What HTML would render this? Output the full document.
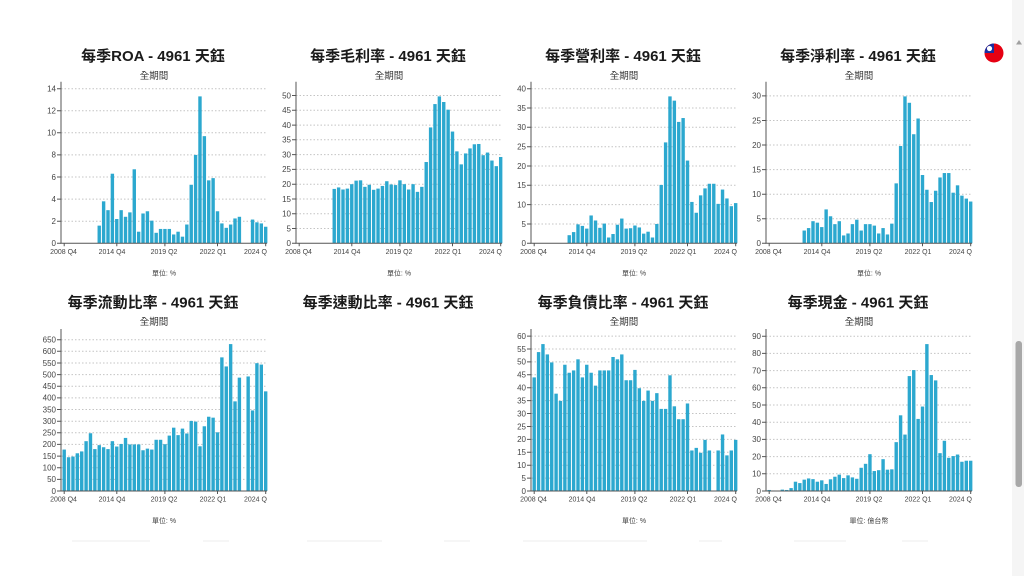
<!DOCTYPE html>
<html><head><meta charset="utf-8">
<style>
html,body{margin:0;padding:0;background:#fff;width:1024px;height:576px;overflow:hidden}
svg{display:block}
text{font-family:"Liberation Sans","Noto Sans CJK TC",sans-serif}
.t{font-size:15px;font-weight:bold;fill:#1a1a1a;text-anchor:middle}
.s{font-size:9.5px;fill:#333;text-anchor:middle}
.u{font-size:7px;fill:#444;text-anchor:middle}
.yl{font-size:8px;fill:#444;text-anchor:end}
.xl{font-size:7px;fill:#444;text-anchor:middle}
.xs{font-size:7px;fill:#444;text-anchor:start}
.g{stroke:#c4c4c4;stroke-width:1;stroke-dasharray:1.5,2;fill:none}
.a{stroke:#555;stroke-width:1;fill:none}
.bars{fill:#2ca8cf}
</style></head><body>
<svg width="1024" height="576" viewBox="0 0 1024 576" xmlns="http://www.w3.org/2000/svg">
<rect width="1024" height="576" fill="#fff"/>
<!-- scrollbar -->
<rect x="1012" y="0" width="12" height="576" fill="#f5f5f5"/>
<polygon points="1016,44.5 1022,44.5 1019,40" fill="#a0a0a0"/>
<rect x="1015.5" y="341" width="6.5" height="146" rx="3" fill="#a8a8a8"/>
<!-- flag -->
<defs><clipPath id="fc"><circle cx="994" cy="53" r="9.5"/></clipPath></defs>
<g clip-path="url(#fc)">
<rect x="984" y="43" width="20" height="20" fill="#e60012"/>
<rect x="984" y="43" width="10" height="10" fill="#1a2fa0"/>
<circle cx="989.5" cy="48.5" r="2.6" fill="#fff"/>
</g>

<!-- Titles -->
<text class="t" x="153" y="61">每季ROA - 4961 天鈺</text>
<text class="t" x="388" y="61">每季毛利率 - 4961 天鈺</text>
<text class="t" x="623" y="61">每季營利率 - 4961 天鈺</text>
<text class="t" x="858" y="61">每季淨利率 - 4961 天鈺</text>
<text class="t" x="153" y="307.5">每季流動比率 - 4961 天鈺</text>
<text class="t" x="388" y="307.5">每季速動比率 - 4961 天鈺</text>
<text class="t" x="623" y="307.5">每季負債比率 - 4961 天鈺</text>
<text class="t" x="858" y="307.5">每季現金 - 4961 天鈺</text>

<text class="s" x="154" y="79">全期間</text>
<text class="s" x="389" y="79">全期間</text>
<text class="s" x="624" y="79">全期間</text>
<text class="s" x="859" y="79">全期間</text>
<text class="s" x="154" y="325">全期間</text>
<text class="s" x="624" y="325">全期間</text>
<text class="s" x="859" y="325">全期間</text>

<text class="u" x="164" y="275.5">單位: %</text>
<text class="u" x="399" y="275.5">單位: %</text>
<text class="u" x="634" y="275.5">單位: %</text>
<text class="u" x="869" y="275.5">單位: %</text>
<text class="u" x="164" y="523">單位: %</text>
<text class="u" x="634" y="523">單位: %</text>
<text class="u" x="869" y="523">單位: 億台幣</text>

<!-- faint bottom fragments -->
<g fill="#f6f6f6">
<rect x="72" y="540" width="78" height="2"/>
<rect x="203" y="540" width="26" height="2"/>
<rect x="307" y="540" width="75" height="2"/>
<rect x="444" y="540" width="26" height="2"/>
<rect x="523" y="540" width="124" height="2"/>
<rect x="699" y="540" width="23" height="2"/>
<rect x="794" y="540" width="52" height="2"/>
<rect x="902" y="540" width="26" height="2"/>
</g>

<!-- ================= CHART 1: ROA ================= -->
<g transform="translate(61,0)">
<path class="g" d="M0 221.2H206M0 199.1H206M0 177H206M0 154.9H206M0 132.8H206M0 110.7H206M0 88.7H206"/>
<path class="a" d="M-4 243.3H0M-4 221.2H0M-4 199.1H0M-4 177H0M-4 154.9H0M-4 132.8H0M-4 110.7H0M-4 88.7H0"/>
<text class="yl" x="-5" y="246.1">0</text>
<text class="yl" x="-5" y="224">2</text>
<text class="yl" x="-5" y="201.9">4</text>
<text class="yl" x="-5" y="179.8">6</text>
<text class="yl" x="-5" y="157.7">8</text>
<text class="yl" x="-5" y="135.6">10</text>
<text class="yl" x="-5" y="113.5">12</text>
<text class="yl" x="-5" y="91.5">14</text>
<g class="bars" transform="translate(0,243.3) scale(1,-11.046)">
<rect x="36.54" width="3.4" height="1.6"/>
<rect x="40.92" width="3.4" height="3.8"/>
<rect x="45.30" width="3.4" height="3.0"/>
<rect x="49.68" width="3.4" height="6.3"/>
<rect x="54.06" width="3.4" height="2.2"/>
<rect x="58.44" width="3.4" height="3.0"/>
<rect x="62.82" width="3.4" height="2.4"/>
<rect x="67.20" width="3.4" height="2.8"/>
<rect x="71.58" width="3.4" height="6.7"/>
<rect x="75.96" width="3.4" height="1.05"/>
<rect x="80.34" width="3.4" height="2.7"/>
<rect x="84.72" width="3.4" height="2.9"/>
<rect x="89.10" width="3.4" height="2.05"/>
<rect x="93.48" width="3.4" height="0.95"/>
<rect x="97.86" width="3.4" height="1.3"/>
<rect x="102.24" width="3.4" height="1.3"/>
<rect x="106.62" width="3.4" height="1.3"/>
<rect x="111.00" width="3.4" height="0.8"/>
<rect x="115.38" width="3.4" height="1.05"/>
<rect x="119.76" width="3.4" height="0.6"/>
<rect x="124.14" width="3.4" height="1.7"/>
<rect x="128.52" width="3.4" height="5.3"/>
<rect x="132.90" width="3.4" height="8.0"/>
<rect x="137.28" width="3.4" height="13.3"/>
<rect x="141.66" width="3.4" height="9.7"/>
<rect x="146.04" width="3.4" height="5.7"/>
<rect x="150.42" width="3.4" height="5.9"/>
<rect x="154.80" width="3.4" height="2.9"/>
<rect x="159.18" width="3.4" height="1.8"/>
<rect x="163.56" width="3.4" height="1.4"/>
<rect x="167.94" width="3.4" height="1.7"/>
<rect x="172.32" width="3.4" height="2.25"/>
<rect x="176.70" width="3.4" height="2.4"/>
<rect x="189.84" width="3.4" height="2.15"/>
<rect x="194.22" width="3.4" height="1.9"/>
<rect x="198.60" width="3.4" height="1.8"/>
<rect x="202.98" width="3.4" height="1.5"/>
</g>
<path class="a" d="M0 81.7V243.3H206M3.2 243.3v3M55.8 243.3v3M103.9 243.3v3M156.5 243.3v3M204.7 243.3v3"/>
<text class="xl" x="2.5" y="253.8">2008 Q4</text>
<text class="xl" x="51" y="253.8">2014 Q4</text>
<text class="xl" x="103" y="253.8">2019 Q2</text>
<text class="xl" x="152" y="253.8">2022 Q1</text>
<text class="xs" x="183" y="253.8">2024 Q</text>
</g>

<!-- ================= CHART 2: 毛利率 ================= -->
<g transform="translate(296,0)">
<path class="g" d="M0 228.5H206M0 213.7H206M0 199H206M0 184.2H206M0 169.4H206M0 154.6H206M0 139.8H206M0 125.1H206M0 110.3H206M0 95.5H206"/>
<path class="a" d="M-4 243.3H0M-4 228.5H0M-4 213.7H0M-4 199H0M-4 184.2H0M-4 169.4H0M-4 154.6H0M-4 139.8H0M-4 125.1H0M-4 110.3H0M-4 95.5H0"/>
<text class="yl" x="-5" y="246.1">0</text>
<text class="yl" x="-5" y="231.3">5</text>
<text class="yl" x="-5" y="216.5">10</text>
<text class="yl" x="-5" y="201.8">15</text>
<text class="yl" x="-5" y="187">20</text>
<text class="yl" x="-5" y="172.2">25</text>
<text class="yl" x="-5" y="157.4">30</text>
<text class="yl" x="-5" y="142.6">35</text>
<text class="yl" x="-5" y="127.9">40</text>
<text class="yl" x="-5" y="113.1">45</text>
<text class="yl" x="-5" y="98.3">50</text>
<g class="bars" transform="translate(0,243.3) scale(1,-2.956)">
<rect x="36.54" width="3.4" height="18.4"/>
<rect x="40.92" width="3.4" height="18.9"/>
<rect x="45.30" width="3.4" height="18.2"/>
<rect x="49.68" width="3.4" height="18.5"/>
<rect x="54.06" width="3.4" height="20.0"/>
<rect x="58.44" width="3.4" height="21.2"/>
<rect x="62.82" width="3.4" height="21.3"/>
<rect x="67.20" width="3.4" height="19.1"/>
<rect x="71.58" width="3.4" height="19.8"/>
<rect x="75.96" width="3.4" height="18.1"/>
<rect x="80.34" width="3.4" height="18.5"/>
<rect x="84.72" width="3.4" height="19.4"/>
<rect x="89.10" width="3.4" height="21.0"/>
<rect x="93.48" width="3.4" height="19.9"/>
<rect x="97.86" width="3.4" height="19.7"/>
<rect x="102.24" width="3.4" height="21.3"/>
<rect x="106.62" width="3.4" height="20.0"/>
<rect x="111.00" width="3.4" height="18.2"/>
<rect x="115.38" width="3.4" height="20.0"/>
<rect x="119.76" width="3.4" height="17.4"/>
<rect x="124.14" width="3.4" height="19.1"/>
<rect x="128.52" width="3.4" height="27.5"/>
<rect x="132.90" width="3.4" height="39.2"/>
<rect x="137.28" width="3.4" height="47.1"/>
<rect x="141.66" width="3.4" height="49.7"/>
<rect x="146.04" width="3.4" height="47.8"/>
<rect x="150.42" width="3.4" height="45.2"/>
<rect x="154.80" width="3.4" height="37.8"/>
<rect x="159.18" width="3.4" height="31.1"/>
<rect x="163.56" width="3.4" height="26.7"/>
<rect x="167.94" width="3.4" height="30.4"/>
<rect x="172.32" width="3.4" height="32.1"/>
<rect x="176.70" width="3.4" height="33.5"/>
<rect x="181.08" width="3.4" height="33.6"/>
<rect x="185.46" width="3.4" height="29.8"/>
<rect x="189.84" width="3.4" height="30.7"/>
<rect x="194.22" width="3.4" height="28.0"/>
<rect x="198.60" width="3.4" height="26.1"/>
<rect x="202.98" width="3.4" height="29.2"/>
</g>
<path class="a" d="M0 81.7V243.3H206M3.2 243.3v3M55.8 243.3v3M103.9 243.3v3M156.5 243.3v3M204.7 243.3v3"/>
<text class="xl" x="2.5" y="253.8">2008 Q4</text>
<text class="xl" x="51" y="253.8">2014 Q4</text>
<text class="xl" x="103" y="253.8">2019 Q2</text>
<text class="xl" x="152" y="253.8">2022 Q1</text>
<text class="xs" x="183" y="253.8">2024 Q</text>
</g>

<!-- ================= CHART 3: 營利率 ================= -->
<g transform="translate(531,0)">
<path class="g" d="M0 224H206M0 204.6H206M0 185.3H206M0 166H206M0 146.7H206M0 127.3H206M0 108H206M0 88.7H206"/>
<path class="a" d="M-4 243.3H0M-4 224H0M-4 204.6H0M-4 185.3H0M-4 166H0M-4 146.7H0M-4 127.3H0M-4 108H0M-4 88.7H0"/>
<text class="yl" x="-5" y="246.1">0</text>
<text class="yl" x="-5" y="226.8">5</text>
<text class="yl" x="-5" y="207.4">10</text>
<text class="yl" x="-5" y="188.1">15</text>
<text class="yl" x="-5" y="168.8">20</text>
<text class="yl" x="-5" y="149.5">25</text>
<text class="yl" x="-5" y="130.1">30</text>
<text class="yl" x="-5" y="110.8">35</text>
<text class="yl" x="-5" y="91.5">40</text>
<g class="bars" transform="translate(0,243.3) scale(1,-3.866)">
<rect x="36.54" width="3.4" height="2.1"/>
<rect x="40.92" width="3.4" height="2.9"/>
<rect x="45.30" width="3.4" height="4.9"/>
<rect x="49.68" width="3.4" height="4.5"/>
<rect x="54.06" width="3.4" height="3.8"/>
<rect x="58.44" width="3.4" height="7.2"/>
<rect x="62.82" width="3.4" height="5.9"/>
<rect x="67.20" width="3.4" height="4.0"/>
<rect x="71.58" width="3.4" height="5.1"/>
<rect x="75.96" width="3.4" height="1.5"/>
<rect x="80.34" width="3.4" height="2.4"/>
<rect x="84.72" width="3.4" height="4.8"/>
<rect x="89.10" width="3.4" height="6.4"/>
<rect x="93.48" width="3.4" height="3.8"/>
<rect x="97.86" width="3.4" height="3.9"/>
<rect x="102.24" width="3.4" height="4.6"/>
<rect x="106.62" width="3.4" height="4.1"/>
<rect x="111.00" width="3.4" height="2.5"/>
<rect x="115.38" width="3.4" height="3.0"/>
<rect x="119.76" width="3.4" height="1.5"/>
<rect x="124.14" width="3.4" height="5.0"/>
<rect x="128.52" width="3.4" height="15.1"/>
<rect x="132.90" width="3.4" height="26.1"/>
<rect x="137.28" width="3.4" height="38.0"/>
<rect x="141.66" width="3.4" height="36.9"/>
<rect x="146.04" width="3.4" height="31.4"/>
<rect x="150.42" width="3.4" height="32.4"/>
<rect x="154.80" width="3.4" height="21.4"/>
<rect x="159.18" width="3.4" height="10.7"/>
<rect x="163.56" width="3.4" height="7.9"/>
<rect x="167.94" width="3.4" height="12.4"/>
<rect x="172.32" width="3.4" height="14.2"/>
<rect x="176.70" width="3.4" height="15.4"/>
<rect x="181.08" width="3.4" height="15.4"/>
<rect x="185.46" width="3.4" height="10.2"/>
<rect x="189.84" width="3.4" height="13.9"/>
<rect x="194.22" width="3.4" height="11.6"/>
<rect x="198.60" width="3.4" height="9.6"/>
<rect x="202.98" width="3.4" height="10.4"/>
</g>
<path class="a" d="M0 81.7V243.3H206M3.2 243.3v3M55.8 243.3v3M103.9 243.3v3M156.5 243.3v3M204.7 243.3v3"/>
<text class="xl" x="2.5" y="253.8">2008 Q4</text>
<text class="xl" x="51" y="253.8">2014 Q4</text>
<text class="xl" x="103" y="253.8">2019 Q2</text>
<text class="xl" x="152" y="253.8">2022 Q1</text>
<text class="xs" x="183" y="253.8">2024 Q</text>
</g>

<!-- ================= CHART 4: 淨利率 ================= -->
<g transform="translate(766,0)">
<path class="g" d="M0 218.7H206M0 194.2H206M0 169.6H206M0 145H206M0 120.5H206M0 95.9H206"/>
<path class="a" d="M-4 243.3H0M-4 218.7H0M-4 194.2H0M-4 169.6H0M-4 145H0M-4 120.5H0M-4 95.9H0"/>
<text class="yl" x="-5" y="246.1">0</text>
<text class="yl" x="-5" y="221.5">5</text>
<text class="yl" x="-5" y="197">10</text>
<text class="yl" x="-5" y="172.4">15</text>
<text class="yl" x="-5" y="147.8">20</text>
<text class="yl" x="-5" y="123.3">25</text>
<text class="yl" x="-5" y="98.7">30</text>
<g class="bars" transform="translate(0,243.3) scale(1,-4.913)">
<rect x="36.54" width="3.4" height="2.6"/>
<rect x="40.92" width="3.4" height="3.1"/>
<rect x="45.30" width="3.4" height="4.5"/>
<rect x="49.68" width="3.4" height="4.2"/>
<rect x="54.06" width="3.4" height="3.3"/>
<rect x="58.44" width="3.4" height="6.9"/>
<rect x="62.82" width="3.4" height="5.5"/>
<rect x="67.20" width="3.4" height="3.9"/>
<rect x="71.58" width="3.4" height="4.5"/>
<rect x="75.96" width="3.4" height="1.6"/>
<rect x="80.34" width="3.4" height="2.0"/>
<rect x="84.72" width="3.4" height="3.9"/>
<rect x="89.10" width="3.4" height="4.8"/>
<rect x="93.48" width="3.4" height="2.6"/>
<rect x="97.86" width="3.4" height="3.9"/>
<rect x="102.24" width="3.4" height="3.9"/>
<rect x="106.62" width="3.4" height="3.6"/>
<rect x="111.00" width="3.4" height="2.0"/>
<rect x="115.38" width="3.4" height="3.1"/>
<rect x="119.76" width="3.4" height="1.8"/>
<rect x="124.14" width="3.4" height="4.0"/>
<rect x="128.52" width="3.4" height="12.2"/>
<rect x="132.90" width="3.4" height="19.8"/>
<rect x="137.28" width="3.4" height="29.9"/>
<rect x="141.66" width="3.4" height="28.6"/>
<rect x="146.04" width="3.4" height="22.2"/>
<rect x="150.42" width="3.4" height="25.4"/>
<rect x="154.80" width="3.4" height="13.9"/>
<rect x="159.18" width="3.4" height="10.9"/>
<rect x="163.56" width="3.4" height="8.4"/>
<rect x="167.94" width="3.4" height="10.7"/>
<rect x="172.32" width="3.4" height="13.4"/>
<rect x="176.70" width="3.4" height="14.3"/>
<rect x="181.08" width="3.4" height="14.3"/>
<rect x="185.46" width="3.4" height="10.3"/>
<rect x="189.84" width="3.4" height="11.8"/>
<rect x="194.22" width="3.4" height="9.7"/>
<rect x="198.60" width="3.4" height="9.1"/>
<rect x="202.98" width="3.4" height="8.5"/>
</g>
<path class="a" d="M0 81.7V243.3H206M3.2 243.3v3M55.8 243.3v3M103.9 243.3v3M156.5 243.3v3M204.7 243.3v3"/>
<text class="xl" x="2.5" y="253.8">2008 Q4</text>
<text class="xl" x="51" y="253.8">2014 Q4</text>
<text class="xl" x="103" y="253.8">2019 Q2</text>
<text class="xl" x="152" y="253.8">2022 Q1</text>
<text class="xs" x="183" y="253.8">2024 Q</text>
</g>

<!-- ================= CHART 5: 流動比率 ================= -->
<g transform="translate(61,0)">
<path class="g" d="M0 479.4H206M0 467.7H206M0 456.1H206M0 444.4H206M0 432.8H206M0 421.2H206M0 409.5H206M0 397.9H206M0 386.2H206M0 374.6H206M0 363H206M0 351.3H206M0 339.7H206"/>
<path class="a" d="M-4 491H0M-4 479.4H0M-4 467.7H0M-4 456.1H0M-4 444.4H0M-4 432.8H0M-4 421.2H0M-4 409.5H0M-4 397.9H0M-4 386.2H0M-4 374.6H0M-4 363H0M-4 351.3H0M-4 339.7H0"/>
<text class="yl" x="-5" y="493.8">0</text>
<text class="yl" x="-5" y="482.2">50</text>
<text class="yl" x="-5" y="470.5">100</text>
<text class="yl" x="-5" y="458.9">150</text>
<text class="yl" x="-5" y="447.2">200</text>
<text class="yl" x="-5" y="435.6">250</text>
<text class="yl" x="-5" y="424">300</text>
<text class="yl" x="-5" y="412.3">350</text>
<text class="yl" x="-5" y="400.7">400</text>
<text class="yl" x="-5" y="389">450</text>
<text class="yl" x="-5" y="377.4">500</text>
<text class="yl" x="-5" y="365.8">550</text>
<text class="yl" x="-5" y="354.1">600</text>
<text class="yl" x="-5" y="342.5">650</text>
<g class="bars" transform="translate(0,491) scale(1,-0.23282)">
<rect x="1.50" width="3.4" height="178"/>
<rect x="5.88" width="3.4" height="145"/>
<rect x="10.26" width="3.4" height="148"/>
<rect x="14.64" width="3.4" height="162"/>
<rect x="19.02" width="3.4" height="170"/>
<rect x="23.40" width="3.4" height="214"/>
<rect x="27.78" width="3.4" height="248"/>
<rect x="32.16" width="3.4" height="180"/>
<rect x="36.54" width="3.4" height="197"/>
<rect x="40.92" width="3.4" height="188"/>
<rect x="45.30" width="3.4" height="180"/>
<rect x="49.68" width="3.4" height="214"/>
<rect x="54.06" width="3.4" height="191"/>
<rect x="58.44" width="3.4" height="202"/>
<rect x="62.82" width="3.4" height="228"/>
<rect x="67.20" width="3.4" height="200"/>
<rect x="71.58" width="3.4" height="200"/>
<rect x="75.96" width="3.4" height="200"/>
<rect x="80.34" width="3.4" height="175"/>
<rect x="84.72" width="3.4" height="182"/>
<rect x="89.10" width="3.4" height="178"/>
<rect x="93.48" width="3.4" height="220"/>
<rect x="97.86" width="3.4" height="220"/>
<rect x="102.24" width="3.4" height="201"/>
<rect x="106.62" width="3.4" height="238"/>
<rect x="111.00" width="3.4" height="272"/>
<rect x="115.38" width="3.4" height="240"/>
<rect x="119.76" width="3.4" height="268"/>
<rect x="124.14" width="3.4" height="247"/>
<rect x="128.52" width="3.4" height="301"/>
<rect x="132.90" width="3.4" height="298"/>
<rect x="137.28" width="3.4" height="192"/>
<rect x="141.66" width="3.4" height="278"/>
<rect x="146.04" width="3.4" height="319"/>
<rect x="150.42" width="3.4" height="315"/>
<rect x="154.80" width="3.4" height="252"/>
<rect x="159.18" width="3.4" height="574"/>
<rect x="163.56" width="3.4" height="535"/>
<rect x="167.94" width="3.4" height="631"/>
<rect x="172.32" width="3.4" height="385"/>
<rect x="176.70" width="3.4" height="487"/>
<rect x="185.46" width="3.4" height="492"/>
<rect x="189.84" width="3.4" height="346"/>
<rect x="194.22" width="3.4" height="549"/>
<rect x="198.60" width="3.4" height="543"/>
<rect x="202.98" width="3.4" height="428"/>
</g>
<path class="a" d="M0 329V491H206M3.2 491v3M55.8 491v3M103.9 491v3M156.5 491v3M204.7 491v3"/>
<text class="xl" x="2.5" y="501.5">2008 Q4</text>
<text class="xl" x="51" y="501.5">2014 Q4</text>
<text class="xl" x="103" y="501.5">2019 Q2</text>
<text class="xl" x="152" y="501.5">2022 Q1</text>
<text class="xs" x="183" y="501.5">2024 Q</text>
</g>

<!-- ================= CHART 6: 負債比率 ================= -->
<g transform="translate(531,0)">
<path class="g" d="M0 478.1H206M0 465.2H206M0 452.3H206M0 439.4H206M0 426.5H206M0 413.5H206M0 400.6H206M0 387.7H206M0 374.8H206M0 361.9H206M0 349H206M0 336.1H206"/>
<path class="a" d="M-4 491H0M-4 478.1H0M-4 465.2H0M-4 452.3H0M-4 439.4H0M-4 426.5H0M-4 413.5H0M-4 400.6H0M-4 387.7H0M-4 374.8H0M-4 361.9H0M-4 349H0M-4 336.1H0"/>
<text class="yl" x="-5" y="493.8">0</text>
<text class="yl" x="-5" y="480.9">5</text>
<text class="yl" x="-5" y="468">10</text>
<text class="yl" x="-5" y="455.1">15</text>
<text class="yl" x="-5" y="442.2">20</text>
<text class="yl" x="-5" y="429.3">25</text>
<text class="yl" x="-5" y="416.3">30</text>
<text class="yl" x="-5" y="403.4">35</text>
<text class="yl" x="-5" y="390.5">40</text>
<text class="yl" x="-5" y="377.6">45</text>
<text class="yl" x="-5" y="364.7">50</text>
<text class="yl" x="-5" y="351.8">55</text>
<text class="yl" x="-5" y="338.9">60</text>
<g class="bars" transform="translate(0,491) scale(1,-2.582)">
<rect x="1.50" width="3.4" height="44.0"/>
<rect x="5.88" width="3.4" height="53.8"/>
<rect x="10.26" width="3.4" height="56.9"/>
<rect x="14.64" width="3.4" height="52.9"/>
<rect x="19.02" width="3.4" height="49.8"/>
<rect x="23.40" width="3.4" height="37.7"/>
<rect x="27.78" width="3.4" height="34.9"/>
<rect x="32.16" width="3.4" height="48.9"/>
<rect x="36.54" width="3.4" height="45.8"/>
<rect x="40.92" width="3.4" height="46.7"/>
<rect x="45.30" width="3.4" height="51.0"/>
<rect x="49.68" width="3.4" height="44.0"/>
<rect x="54.06" width="3.4" height="48.9"/>
<rect x="58.44" width="3.4" height="45.8"/>
<rect x="62.82" width="3.4" height="40.8"/>
<rect x="67.20" width="3.4" height="46.7"/>
<rect x="71.58" width="3.4" height="46.7"/>
<rect x="75.96" width="3.4" height="46.7"/>
<rect x="80.34" width="3.4" height="51.9"/>
<rect x="84.72" width="3.4" height="51.0"/>
<rect x="89.10" width="3.4" height="52.9"/>
<rect x="93.48" width="3.4" height="42.9"/>
<rect x="97.86" width="3.4" height="42.9"/>
<rect x="102.24" width="3.4" height="46.9"/>
<rect x="106.62" width="3.4" height="39.8"/>
<rect x="111.00" width="3.4" height="34.9"/>
<rect x="115.38" width="3.4" height="38.9"/>
<rect x="119.76" width="3.4" height="34.9"/>
<rect x="124.14" width="3.4" height="37.9"/>
<rect x="128.52" width="3.4" height="31.8"/>
<rect x="132.90" width="3.4" height="31.8"/>
<rect x="137.28" width="3.4" height="44.8"/>
<rect x="141.66" width="3.4" height="32.8"/>
<rect x="146.04" width="3.4" height="27.8"/>
<rect x="150.42" width="3.4" height="27.8"/>
<rect x="154.80" width="3.4" height="33.9"/>
<rect x="159.18" width="3.4" height="15.7"/>
<rect x="163.56" width="3.4" height="16.7"/>
<rect x="167.94" width="3.4" height="14.8"/>
<rect x="172.32" width="3.4" height="19.8"/>
<rect x="176.70" width="3.4" height="15.7"/>
<rect x="185.46" width="3.4" height="15.7"/>
<rect x="189.84" width="3.4" height="21.9"/>
<rect x="194.22" width="3.4" height="13.8"/>
<rect x="198.60" width="3.4" height="15.7"/>
<rect x="202.98" width="3.4" height="19.8"/>
</g>
<path class="a" d="M0 329V491H206M3.2 491v3M55.8 491v3M103.9 491v3M156.5 491v3M204.7 491v3"/>
<text class="xl" x="2.5" y="501.5">2008 Q4</text>
<text class="xl" x="51" y="501.5">2014 Q4</text>
<text class="xl" x="103" y="501.5">2019 Q2</text>
<text class="xl" x="152" y="501.5">2022 Q1</text>
<text class="xs" x="183" y="501.5">2024 Q</text>
</g>

<!-- ================= CHART 8: 現金 ================= -->
<g transform="translate(766,0)">
<path class="g" d="M0 473.8H206M0 456.6H206M0 439.4H206M0 422.2H206M0 405H206M0 387.8H206M0 370.6H206M0 353.4H206M0 336.2H206"/>
<path class="a" d="M-4 491H0M-4 473.8H0M-4 456.6H0M-4 439.4H0M-4 422.2H0M-4 405H0M-4 387.8H0M-4 370.6H0M-4 353.4H0M-4 336.2H0"/>
<text class="yl" x="-5" y="493.8">0</text>
<text class="yl" x="-5" y="476.6">10</text>
<text class="yl" x="-5" y="459.4">20</text>
<text class="yl" x="-5" y="442.2">30</text>
<text class="yl" x="-5" y="425">40</text>
<text class="yl" x="-5" y="407.8">50</text>
<text class="yl" x="-5" y="390.6">60</text>
<text class="yl" x="-5" y="373.4">70</text>
<text class="yl" x="-5" y="356.2">80</text>
<text class="yl" x="-5" y="339">90</text>
<g class="bars" transform="translate(0,491) scale(1,-1.7202)">
<rect x="1.50" width="3.4" height="0.6"/>
<rect x="5.88" width="3.4" height="0.3"/>
<rect x="14.64" width="3.4" height="0.8"/>
<rect x="19.02" width="3.4" height="0.6"/>
<rect x="23.40" width="3.4" height="1.7"/>
<rect x="27.78" width="3.4" height="5.4"/>
<rect x="32.16" width="3.4" height="4.6"/>
<rect x="36.54" width="3.4" height="6.6"/>
<rect x="40.92" width="3.4" height="7.3"/>
<rect x="45.30" width="3.4" height="6.9"/>
<rect x="49.68" width="3.4" height="5.4"/>
<rect x="54.06" width="3.4" height="6.2"/>
<rect x="58.44" width="3.4" height="4.1"/>
<rect x="62.82" width="3.4" height="6.8"/>
<rect x="67.20" width="3.4" height="8.3"/>
<rect x="71.58" width="3.4" height="9.5"/>
<rect x="75.96" width="3.4" height="7.5"/>
<rect x="80.34" width="3.4" height="9.1"/>
<rect x="84.72" width="3.4" height="7.9"/>
<rect x="89.10" width="3.4" height="7.1"/>
<rect x="93.48" width="3.4" height="13.5"/>
<rect x="97.86" width="3.4" height="15.8"/>
<rect x="102.24" width="3.4" height="21.4"/>
<rect x="106.62" width="3.4" height="11.6"/>
<rect x="111.00" width="3.4" height="12.1"/>
<rect x="115.38" width="3.4" height="18.5"/>
<rect x="119.76" width="3.4" height="12.4"/>
<rect x="124.14" width="3.4" height="12.6"/>
<rect x="128.52" width="3.4" height="28.4"/>
<rect x="132.90" width="3.4" height="44.0"/>
<rect x="137.28" width="3.4" height="32.8"/>
<rect x="141.66" width="3.4" height="66.8"/>
<rect x="146.04" width="3.4" height="70.3"/>
<rect x="150.42" width="3.4" height="41.9"/>
<rect x="154.80" width="3.4" height="49.1"/>
<rect x="159.18" width="3.4" height="85.4"/>
<rect x="163.56" width="3.4" height="67.4"/>
<rect x="167.94" width="3.4" height="64.3"/>
<rect x="172.32" width="3.4" height="22.0"/>
<rect x="176.70" width="3.4" height="29.2"/>
<rect x="181.08" width="3.4" height="19.3"/>
<rect x="185.46" width="3.4" height="20.3"/>
<rect x="189.84" width="3.4" height="21.2"/>
<rect x="194.22" width="3.4" height="17.0"/>
<rect x="198.60" width="3.4" height="17.6"/>
<rect x="202.98" width="3.4" height="17.6"/>
</g>
<path class="a" d="M0 329V491H206M3.2 491v3M55.8 491v3M103.9 491v3M156.5 491v3M204.7 491v3"/>
<text class="xl" x="2.5" y="501.5">2008 Q4</text>
<text class="xl" x="51" y="501.5">2014 Q4</text>
<text class="xl" x="103" y="501.5">2019 Q2</text>
<text class="xl" x="152" y="501.5">2022 Q1</text>
<text class="xs" x="183" y="501.5">2024 Q</text>
</g>
</svg>
</body></html>
